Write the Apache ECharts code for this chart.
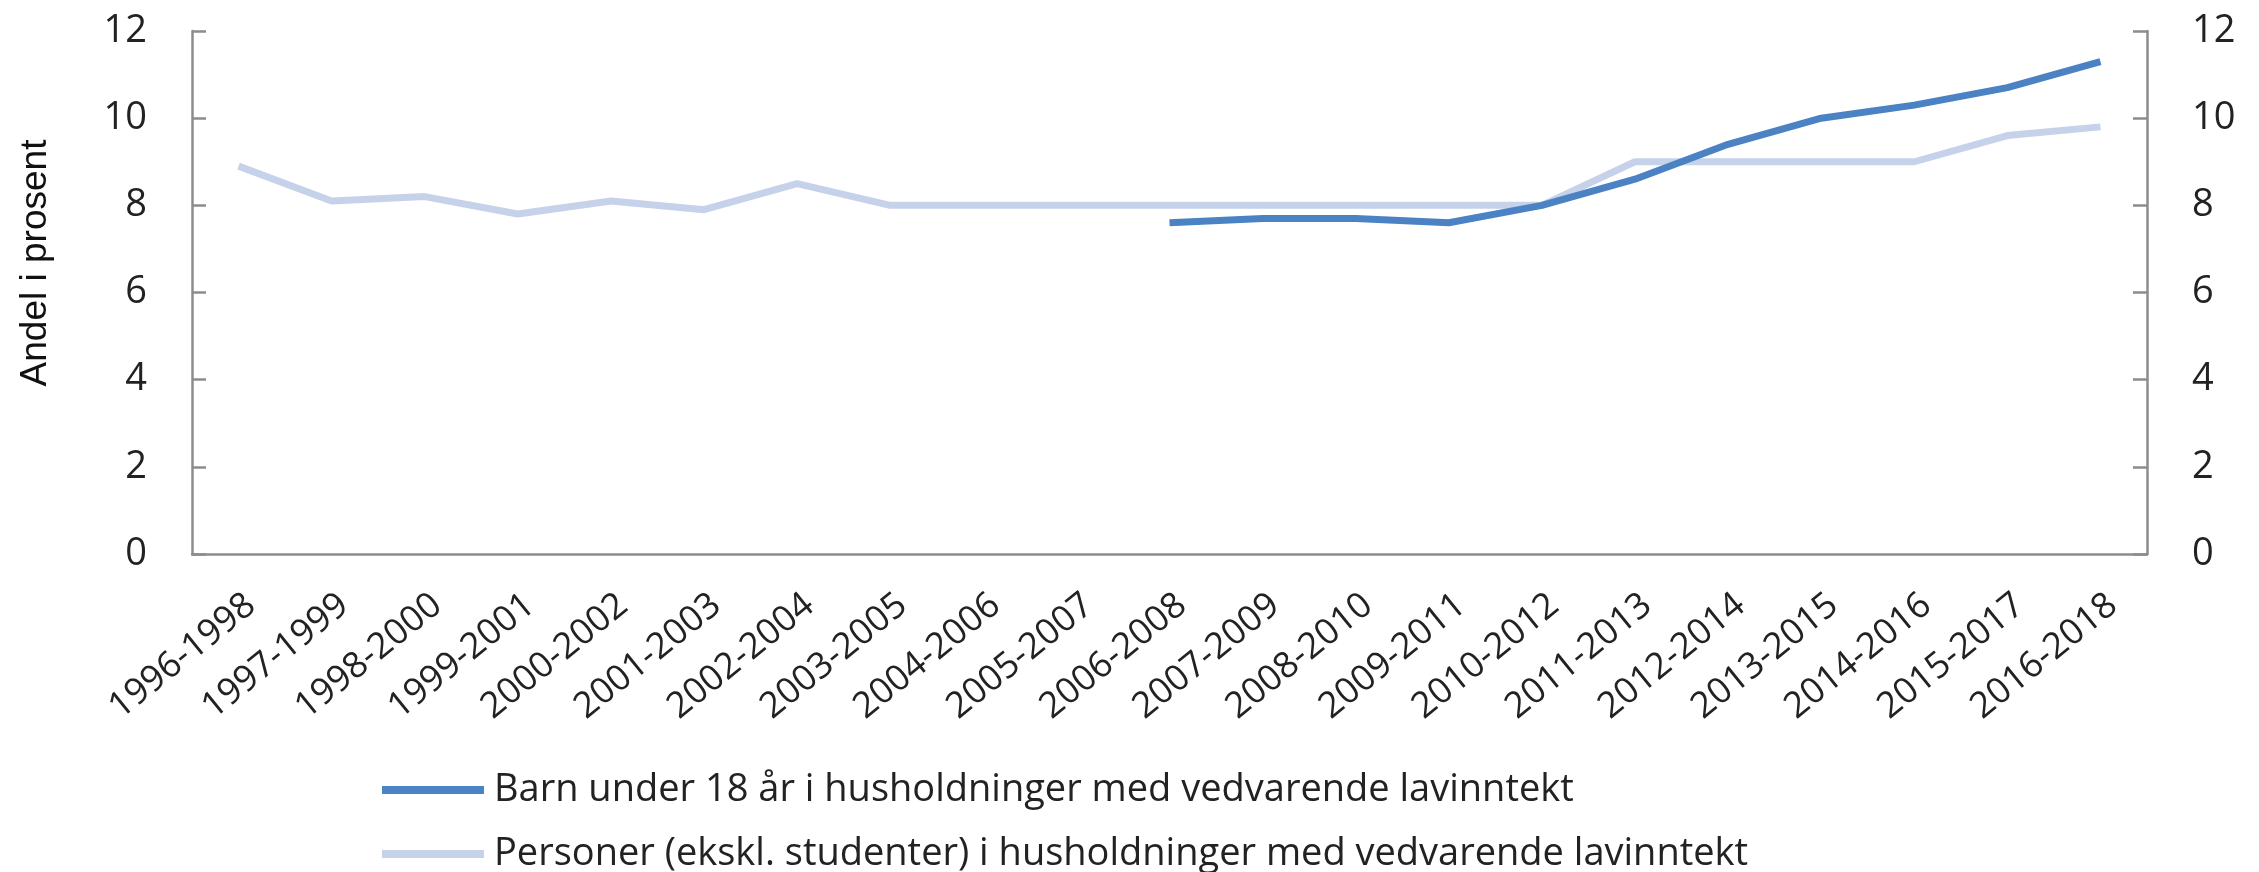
<!DOCTYPE html>
<html>
<head>
<meta charset="utf-8">
<script src="https://cdn.jsdelivr.net/npm/echarts@6/dist/echarts.min.js"></script>
<style>
html,body{margin:0;padding:0;background:#fff;}
#chart{width:2259px;height:872px;}
</style>
</head>
<body>
<div id="chart"></div>
<script>
const categories = ['1996-1998','1997-1999','1998-2000','1999-2001','2000-2002','2001-2003','2002-2004','2003-2005','2004-2006','2005-2007','2006-2008','2007-2009','2008-2010','2009-2011','2010-2012','2011-2013','2012-2014','2013-2015','2014-2016','2015-2017','2016-2018'];
const barnValues = [null,null,null,null,null,null,null,null,null,null,7.6,7.7,7.7,7.6,8.0,8.6,9.4,10.0,10.3,10.7,11.3];
const personerValues = [8.9,8.1,8.2,7.8,8.1,7.9,8.5,8.0,8.0,8.0,8.0,8.0,8.0,8.0,8.0,9.0,9.0,9.0,9.0,9.6,9.8];
const seriesNames = ['Barn under 18 år i husholdninger med vedvarende lavinntekt','Personer (ekskl. studenter) i husholdninger med vedvarende lavinntekt'];
const yTitle = 'Andel i prosent';

const chart = echarts.init(document.getElementById('chart'));
const axisColor = '#8c8c8c';
const textColor = '#222';
const blue = '#4a82c3';
const light = '#c5d2ea';
const yAxisCommon = {
  type:'value', min:0, max:12, interval:2,
  axisLine:{show:true, lineStyle:{color:axisColor, width:2.5}},
  axisTick:{show:true, inside:true, length:14, lineStyle:{color:axisColor, width:2.5}},
  splitLine:{show:false},
  axisLabel:{fontFamily:'Open Sans', fontSize:38, color:textColor, margin:45}
};
const legendCommon = {
  orient:'vertical', left:377, itemWidth:102, itemHeight:8, icon:'rect',
  textStyle:{fontFamily:'Open Sans', fontSize:38, color:textColor, lineHeight:44, padding:[0,0,0,5]}
};
chart.setOption({
  animation:false,
  backgroundColor:'#fff',
  grid:{left:192, right:112, top:31, bottom:318, containLabel:false},
  graphic:[{
    type:'text', x:36, y:263, rotation:Math.PI/2,
    style:{text:yTitle, fontFamily:'Liberation Sans', fontSize:37, fill:'#111', textAlign:'center', textVerticalAlign:'middle'}
  }],
  xAxis:{
    type:'category', data:categories, boundaryGap:true,
    axisLine:{show:true, lineStyle:{color:axisColor, width:2.5}},
    axisTick:{show:false},
    axisLabel:{rotate:39, interval:0, fontFamily:'Open Sans', fontSize:36, color:textColor, margin:57, padding:[0,-16,0,0]}
  },
  yAxis:[
    Object.assign({position:'left'}, yAxisCommon),
    Object.assign({position:'right'}, yAxisCommon)
  ],
  legend:[
    Object.assign({top:763, data:[seriesNames[0]]}, legendCommon),
    Object.assign({top:827, data:[seriesNames[1]]}, legendCommon)
  ],
  series:[
    {name:seriesNames[1], type:'line', data:personerValues, showSymbol:false, symbol:'none',
     lineStyle:{color:light, width:7}, itemStyle:{color:light}, z:2},
    {name:seriesNames[0], type:'line', data:barnValues, showSymbol:false, symbol:'none', connectNulls:false,
     lineStyle:{color:blue, width:7}, itemStyle:{color:blue}, z:3}
  ]
});
</script>
</body>
</html>
